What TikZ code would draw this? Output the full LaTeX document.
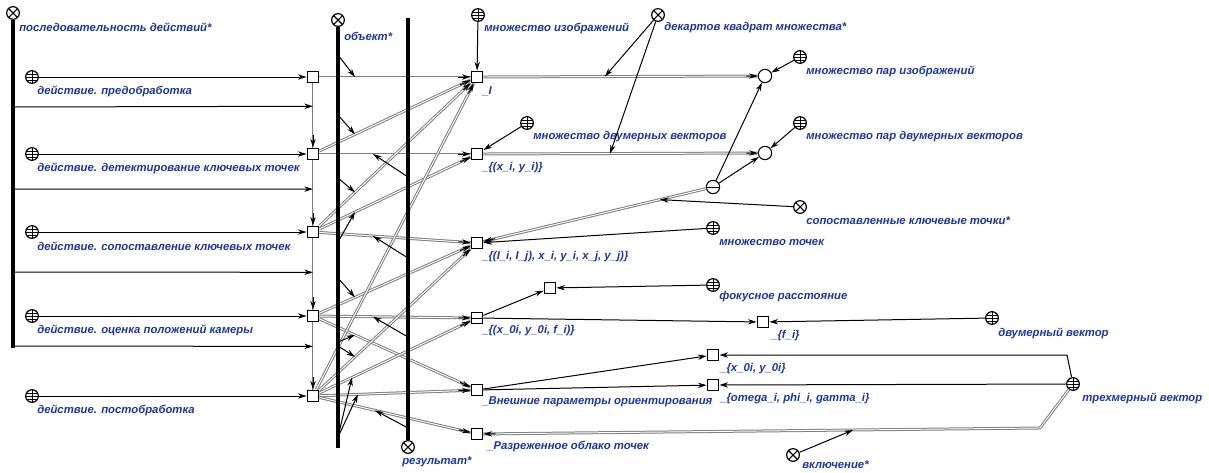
\documentclass[tikz,border=0pt]{standalone}
\usepackage{fontspec}
\setmainfont{Liberation Sans}
\usetikzlibrary{arrows.meta,calc}
\definecolor{scgblue}{RGB}{30,55,160}
\newcommand\darc[2]{\draw[dline] (#1) -- (#2); \draw[arr] ($(#2)!14pt!(#1)$) -- (#2);}
\begin{document}
\begin{tikzpicture}[x=0.75pt,y=-0.75pt,
  sq/.style={draw, line width=0.8pt, fill=white, minimum size=8.8pt, inner sep=0pt},
  tup/.style={sq, path picture={\draw[line width=0.7pt] (path picture bounding box.west) -- (path picture bounding box.east);}},
  setn/.style={circle, draw, line width=0.8pt, fill=white, minimum size=10pt, inner sep=0pt},
  tupc/.style={setn, path picture={\draw[line width=0.7pt] (path picture bounding box.west) -- (path picture bounding box.east);}},
  rel/.style={circle, draw, line width=0.9pt, fill=white, minimum size=9.5pt, inner sep=0pt,
    path picture={\draw[line width=0.8pt] (path picture bounding box.north west) -- (path picture bounding box.south east)
      (path picture bounding box.north east) -- (path picture bounding box.south west);}},
  cls/.style={circle, draw, line width=0.9pt, fill=white, minimum size=9.5pt, inner sep=0pt,
    path picture={\draw[line width=0.55pt] (path picture bounding box.north) -- (path picture bounding box.south)
      (path picture bounding box.west) -- (path picture bounding box.east)
      ([yshift=2.3pt]path picture bounding box.west) -- ([yshift=2.3pt]path picture bounding box.east)
      ([yshift=-2.3pt]path picture bounding box.west) -- ([yshift=-2.3pt]path picture bounding box.east);}},
  lbl/.style={font=\fontsize{8.5}{10}\selectfont\bfseries\itshape, text=scgblue, anchor=west, inner sep=0pt},
  arr/.style={line width=0.75pt, -{Stealth[length=6.5pt,width=4pt]}},
  bus/.style={line width=2.4pt},
  dline/.style={draw=white, line width=0.7pt, preaction={draw=black!50, line width=2.2pt}}
]
\fill[white] (0,0) rectangle (1209,472);
\useasboundingbox (0,0) rectangle (1209,472);

% action classes and actions
\foreach \i/\y/\t in {1/77/{действие. предобработка},
                      2/154/{действие. детектирование ключевых точек},
                      3/232/{действие. сопоставление ключевых точек},
                      4/316/{действие. оценка положений камеры},
                      5/396/{действие. постобработка}}{
  \node[cls] (K\i) at (32,\y) {};
  \node[sq] (A\i) at (313,\y) {};
  \node[lbl] (lK\i) at (37,\y+14) {\t};
  \draw[arr] (K\i) -- (A\i);
}

% target nodes
\node[sq] (T1) at (477,77) {};
\node[sq] (T2) at (477,154) {};
\node[sq] (T3) at (477,243) {};
\node[tup] (T4) at (477,318) {};
\node[sq] (T5) at (477,390) {};
\node[sq] (T6) at (477,434) {};
\node[lbl] (lT1) at (482,91) {\_I};
\node[lbl] (lT2) at (482,168) {\_\{(x\_i, y\_i)\}};
\node[lbl] (lT3) at (482,257) {\_\{(I\_i, I\_j), x\_i, y\_i, x\_j, y\_j)\}};
\node[lbl] (lT4) at (482,331) {\_\{(x\_0i, y\_0i, f\_i)\}};
\node[lbl] (lT5) at (482,402) {\_Внешние параметры ориентирования};
\node[lbl] (lT6) at (487,447) {\_Разреженное облако точек};

% sequence of actions
\darc{A1}{A2}
\darc{A2}{A3}
\darc{A3}{A4}
\darc{A4}{A5}

% action -> operand arcs
\darc{A1}{T1}
\darc{A2}{T1}
\darc{A2}{T2}
\darc{A3}{T1}
\darc{A3}{T2}
\darc{A3}{T3}
\darc{A4}{T3}
\darc{A4}{T4}
\darc{A4}{T5}
\darc{A5}{T1}
\darc{A5}{T3}
\darc{A5}{T4}
\darc{A5}{T5}
\darc{A5}{T6}

% sequence bus
\node[rel] (seq) at (13,13) {};
\coordinate (seqend) at (13,348);
\draw[bus] (seq) -- (seqend);
\node[lbl] (lseq) at (19,27) {последовательность действий*};

% object and result buses
\node[rel] (ob) at (338,20) {};
\coordinate (obend) at (338,448);
\draw[bus] (ob) -- (obend);
\node[lbl] (lob) at (344,36) {объект*};
\node[rel] (rb) at (408,447) {};
\coordinate (rbtop) at (408,18);
\draw[bus] (rbtop) -- (rb);
\node[lbl] (lrb) at (402,462) {результат*};

% sequence arrows from the bus
\coordinate (sb1) at (13,107);
\coordinate (sb2) at (13,189);
\coordinate (sb3) at (13,272);
\coordinate (sb4) at (13,346);
\draw[arr] (sb1) -- ($(A1)!0.38!(A2)$);
\draw[arr] (sb2) -- ($(A2)!0.45!(A3)$);
\draw[arr] (sb3) -- ($(A3)!0.48!(A4)$);
\draw[arr] (sb4) -- ($(A4)!0.38!(A5)$);

% role arrows: object*
\coordinate (ob1) at (338,55);
\coordinate (ob2) at (338,115);
\coordinate (ob3) at (338,178);
\coordinate (ob4) at (338,242);
\coordinate (ob5) at (338,278);
\coordinate (ob6) at (338,342);
\coordinate (ob7) at (338,346);
\coordinate (ob8) at (338,437);
\draw[arr] (ob1) -- ($(A1)!0.256!(T1)$);
\draw[arr] (ob2) -- ($(A2)!0.256!(T1)$);
\draw[arr] (ob3) -- ($(A3)!0.256!(T1)$);
\draw[arr] (ob4) -- ($(A3)!0.256!(T2)$);
\draw[arr] (ob5) -- ($(A4)!0.256!(T3)$);
\draw[arr] (ob6) -- ($(A4)!0.256!(T5)$);
\draw[arr] (ob7) -- ($(A5)!0.256!(T3)$);
\draw[arr] (ob8) -- ($(A5)!0.238!(T4)$);
\draw[arr] (ob8) -- ($(A5)!0.274!(T5)$);
% role arrows: result*
\coordinate (rb1) at (408,177);
\coordinate (rb2) at (408,258);
\coordinate (rb3) at (408,337);
\coordinate (rb4) at (408,428);
\draw[arr] (rb1) -- ($(A2)!0.366!(T2)$);
\draw[arr] (rb2) -- ($(A3)!0.366!(T3)$);
\draw[arr] (rb3) -- ($(A4)!0.366!(T4)$);
\draw[arr] (rb4) -- ($(A5)!0.378!(T6)$);

% right part
\node[cls] (GI) at (478,15) {};
\node[lbl] (lGI) at (484,28) {множество изображений};
\draw[arr] (GI) -- (T1);
\node[rel] (DQ) at (658,15) {};
\node[lbl] (lDQ) at (664,28) {декартов квадрат множества*};
\node[cls] (GV) at (527,123) {};
\node[lbl] (lGV) at (533,137) {множество двумерных векторов};
\draw[arr] (GV) -- (T2);

\node[setn] (C1) at (765,76) {};
\node[setn] (C2) at (765,153) {};
\node[cls] (GP1) at (800,57) {};
\node[lbl] (lGP1) at (806,71) {множество пар изображений};
\node[cls] (GP2) at (800,123) {};
\node[lbl] (lGP2) at (806,137) {множество пар двумерных векторов};
\draw[arr] (GP1) -- (C1);
\draw[arr] (GP2) -- (C2);
\darc{T1}{C1}
\darc{T2}{C2}
\draw[arr] (DQ) -- ($(T1)!0.444!(C1)$);
\draw[arr] (DQ) -- ($(T2)!0.462!(C2)$);

\node[tupc] (E) at (713,187) {};
\draw[arr] (E) -- (C1);
\draw[arr] (E) -- (C2);
\darc{E}{T3}
\node[rel] (MK) at (800,207) {};
\node[lbl] (lMK) at (806,221) {сопоставленные ключевые точки*};
\draw[arr] (MK) -- ($(E)!0.225!(T3)$);
\node[cls] (GT) at (713,228) {};
\node[lbl] (lGT) at (719,242) {множество точек};
\draw[arr] (GT) -- (T3);

\node[sq] (SF) at (550,288) {};
\node[cls] (GF) at (713,285) {};
\node[lbl] (lGF) at (719,297) {фокусное расстояние};
\draw[arr] (T4) -- (SF);
\draw[arr] (GF) -- (SF);
\node[sq] (SFI) at (763,322) {};
\node[lbl] (lSFI) at (771,336) {\_\{f\_i\}};
\node[cls] (G2) at (992,318) {};
\node[lbl] (lG2) at (998,333) {двумерный вектор};
\draw[arr] (T4) -- (SFI);
\draw[arr] (G2) -- (SFI);

\node[sq] (SX) at (713,355) {};
\node[lbl] (lSX) at (720,369) {\_\{x\_0i, y\_0i\}};
\node[sq] (SO) at (713,385) {};
\node[lbl] (lSO) at (720,399) {\_\{omega\_i, phi\_i, gamma\_i\}};
\draw[arr] (T5) -- (SX);
\draw[arr] (T5) -- (SO);
\node[cls] (G3) at (1073,384) {};
\node[lbl] (lG3) at (1082,398) {трехмерный вектор};
\coordinate (c1) at (1067,355);
\coordinate (c2) at (1040,428);
\draw[arr] (G3) -- (c1) -- (SX);
\draw[arr] (G3) -- (SO);
\draw[dline] (G3) -- (c2) -- (T6);
\draw[arr] ($(T6)!14pt!(c2)$) -- (T6);
\node[rel] (INC) at (793,455) {};
\node[lbl] (lINC) at (802,465) {включение*};
\draw[arr] (INC) -- ($(c2)!0.332!(T6)$);
\end{tikzpicture}
\end{document}
